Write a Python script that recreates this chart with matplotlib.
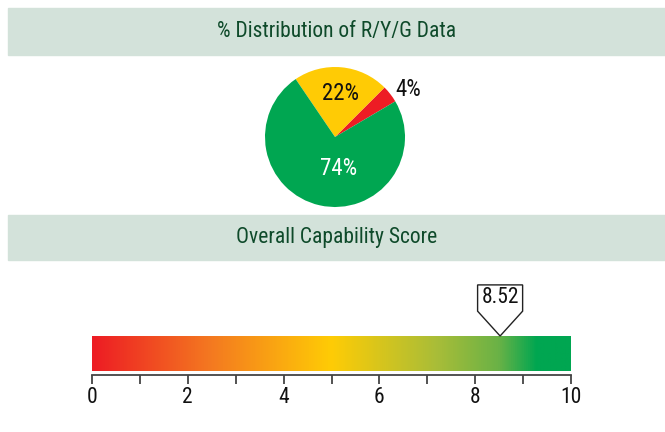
import numpy as np
import matplotlib
matplotlib.use("Agg")
import matplotlib.pyplot as plt
from matplotlib.colors import LinearSegmentedColormap
from matplotlib.patches import Rectangle, Polygon

plt.rcParams["font.family"] = ["Roboto Condensed", "DejaVu Sans"]

# dados
categorias = ["R", "Y", "G"]
percentuais = [4, 22, 74]
cores_pizza = ["#ED1C24", "#FFCB05", "#00A651"]
score = 8.52
score_min, score_max = 0, 10

titulo_pizza = "% Distribution of R/Y/G Data"
titulo_score = "Overall Capability Score"

W, H = 665, 432
fig = plt.figure(figsize=(W / 100, H / 100), dpi=100)


def px_axes(x0, y0, x1, y1):
    # cria eixos a partir de coordenadas em pixels (origem no topo)
    return fig.add_axes([x0 / W, 1 - y1 / H, (x1 - x0) / W, (y1 - y0) / H])


# faixas de titulo
for (y0, y1), txt in [((8, 55), titulo_pizza), ((215, 260), titulo_score)]:
    fig.patches.append(Rectangle((8 / W, 1 - y1 / H), 1, (y1 - y0) / H,
                                 transform=fig.transFigure, color="#D3E2DA", zorder=0))
    fig.text(0.5 + 4 / W, 1 - (y0 + y1) / 2 / H, txt, ha="center", va="center",
             fontsize=15.5, color="#0E4A2A")

# pizza
axp = px_axes(265, 67, 405, 207)
wedges, _ = axp.pie(percentuais, colors=cores_pizza, startangle=30.6,
                    counterclock=True, radius=1.0)
axp.set_xlim(-1, 1)
axp.set_ylim(-1, 1)
axp.set_aspect("equal")
axp.axis("off")

# posicoes dos rotulos (raio, angulo em graus) e cor do texto
pos_rotulos = [(1.24, 33), (0.62, 83), (0.45, 276)]
cor_rotulos = ["#111111", "#111111", "white"]
for v, (r, ang), c in zip(percentuais, pos_rotulos, cor_rotulos):
    a = np.deg2rad(ang)
    axp.text(r * np.cos(a), r * np.sin(a), f"{v}%", ha="center", va="center",
             fontsize=16.5, color=c, clip_on=False)

# barra de gradiente
axg = px_axes(92, 336, 571, 371)
cmap = LinearSegmentedColormap.from_list("ryg", [
    (0.0, "#ED1C24"), (0.25, "#F47A20"), (0.5, "#FFCC05"),
    (0.72, "#A9BD38"), (0.85, "#6AB246"), (0.93, "#00A651"), (1.0, "#00A651")])
grad = np.linspace(0, 1, 512).reshape(1, -1)
axg.imshow(grad, cmap=cmap, aspect="auto", extent=(score_min, score_max, 0, 1))
axg.set_xlim(score_min, score_max)
axg.set_ylim(0, 1)
for s in ["top", "left", "right"]:
    axg.spines[s].set_visible(False)
axg.spines["bottom"].set_position(("outward", 3))
axg.spines["bottom"].set_color("#444444")
axg.spines["bottom"].set_linewidth(1.3)
axg.set_yticks([])
axg.set_xticks(np.arange(score_min, score_max + 1, 2))
axg.set_xticks(np.arange(score_min + 1, score_max, 2), minor=True)
axg.tick_params(axis="x", which="both", direction="out", length=6.5, width=1.3,
                color="#444444", labelsize=15.5, labelcolor="#111111", pad=2)

# marcador do score
meia = 0.47
marcador = Polygon([(score, 1.0), (score - meia, 1.71), (score - meia, 2.46),
                    (score + meia, 2.46), (score + meia, 1.71)], closed=True,
                   facecolor="white", edgecolor="#222222", lw=1.0, clip_on=False)
axg.add_patch(marcador)
axg.text(score, 2.1, f"{score:.2f}", ha="center", va="center", fontsize=15.5,
         color="#111111", clip_on=False)

fig.savefig("out.png", dpi=100)
